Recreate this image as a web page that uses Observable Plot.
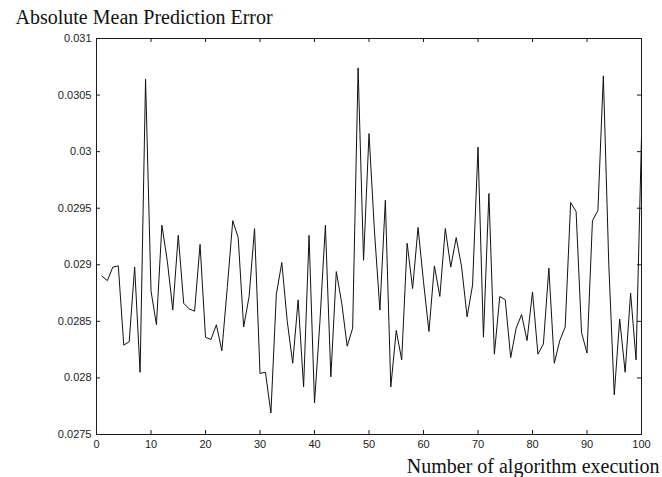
<!DOCTYPE html>
<html>
<head>
<meta charset="utf-8">
<script src="https://cdn.jsdelivr.net/npm/d3@7"></script>
<script src="https://cdn.jsdelivr.net/npm/@observablehq/plot@0.6"></script>
<style>
  html, body { margin: 0; padding: 0; background: #fff; }
</style>
</head>
<body>
<div id="chart"></div>
<script>
const titleText = "Absolute Mean Prediction Error";
const xLabelText = "Number of algorithm execution";

const errorValues = [
  0.02890, 0.02886, 0.02898, 0.02899, 0.02829, 0.02832, 0.02898, 0.02805, 0.03064, 0.02877,
  0.02847, 0.02935, 0.02903, 0.02860, 0.02926, 0.02866, 0.02861, 0.02859, 0.02918, 0.02836,
  0.02834, 0.02847, 0.02824, 0.02880, 0.02939, 0.02924, 0.02845, 0.02872, 0.02932, 0.02804,
  0.02805, 0.02769, 0.02874, 0.02902, 0.02850, 0.02813, 0.02869, 0.02792, 0.02926, 0.02778,
  0.02850, 0.02935, 0.02801, 0.02894, 0.02866, 0.02828, 0.02844, 0.03074, 0.02904, 0.03016,
  0.02930, 0.02860, 0.02957, 0.02792, 0.02842, 0.02816, 0.02919, 0.02879, 0.02933, 0.02885,
  0.02841, 0.02899, 0.02872, 0.02932, 0.02898, 0.02924, 0.02898, 0.02854, 0.02882, 0.03004,
  0.02836, 0.02963, 0.02821, 0.02872, 0.02869, 0.02818, 0.02844, 0.02856, 0.02833, 0.02876,
  0.02821, 0.02830, 0.02897, 0.02813, 0.02833, 0.02845, 0.02955, 0.02947, 0.02840, 0.02822,
  0.02939, 0.02948, 0.03067, 0.02900, 0.02785, 0.02852, 0.02805, 0.02875, 0.02816, 0.03013
];

const xTicks = [0, 10, 20, 30, 40, 50, 60, 70, 80, 90, 100];
const yTicks = [0.0275, 0.028, 0.0285, 0.029, 0.0295, 0.03, 0.0305, 0.031];
const yTickLabels = ["0.0275", "0.028", "0.0285", "0.029", "0.0295", "0.03", "0.0305", "0.031"];

const data = errorValues.map((v, i) => ({run: i + 1, error: v}));
const yLabelMap = new Map(yTicks.map((v, i) => [v, yTickLabels[i]]));

const W = 662, H = 477;
const mL = 96, mR = 21, mT = 38, mB = 43;
const innerW = W - mL - mR, innerH = H - mT - mB;
const tick = 4;
const ink = "#1a1a1a";
const sans = "Liberation Sans, Arial, sans-serif";
const serif = "Liberation Serif, Times New Roman, serif";

const chart = Plot.plot({
  width: W,
  height: H,
  marginLeft: mL,
  marginRight: mR,
  marginTop: mT,
  marginBottom: mB,
  style: {background: "#fff", color: ink},
  x: {domain: [0, 100]},
  y: {domain: [0.0275, 0.031]},
  marks: [
    Plot.frame({stroke: ink, strokeWidth: 1}),
    // inward ticks, all four sides
    Plot.ruleX(xTicks, {x: d => d, insetTop: innerH - tick, stroke: ink}),
    Plot.ruleX(xTicks, {x: d => d, insetBottom: innerH - tick, stroke: ink}),
    Plot.ruleY(yTicks, {y: d => d, insetRight: innerW - tick, stroke: ink}),
    Plot.ruleY(yTicks, {y: d => d, insetLeft: innerW - tick, stroke: ink}),
    Plot.axisX(xTicks, {tickSize: 0, tickPadding: 6, label: null, fontSize: 11, fontFamily: sans, fill: "#222"}),
    Plot.axisY(yTicks, {tickSize: 0, tickPadding: 5, label: null, fontSize: 11, fontFamily: sans, fill: "#222",
      tickFormat: d => yLabelMap.get(d)}),
    Plot.line(data, {x: "run", y: "error", stroke: "#111", strokeWidth: 1}),
    Plot.text([titleText], {frameAnchor: "top-left", text: d => d, dx: 15 - mL, dy: -15,
      textAnchor: "start", lineAnchor: "bottom", fontSize: 20, fontFamily: serif, fill: "#111"}),
    Plot.text([xLabelText], {frameAnchor: "bottom-right", text: d => d, dx: 18, dy: 38,
      textAnchor: "end", lineAnchor: "bottom", fontSize: 20, fontFamily: serif, fill: "#111"})
  ]
});

document.getElementById("chart").appendChild(chart);
</script>
</body>
</html>
